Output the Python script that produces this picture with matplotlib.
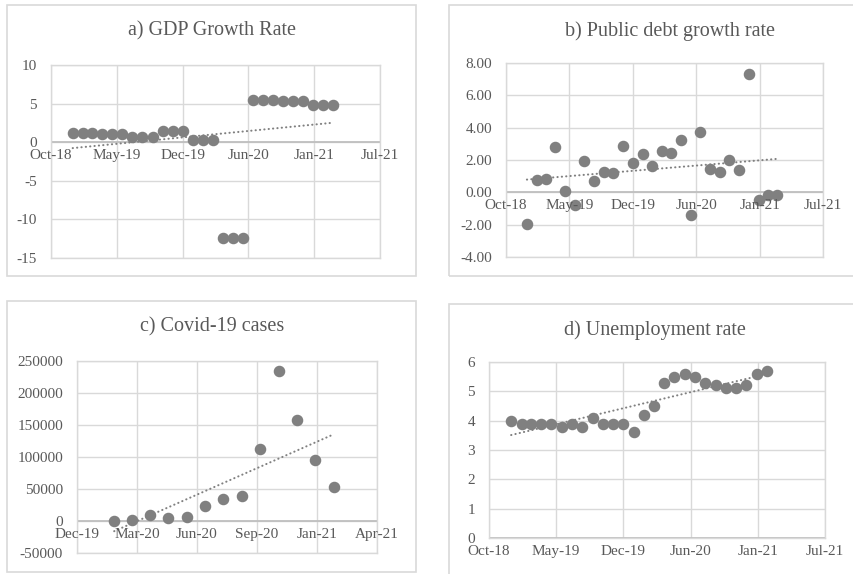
import datetime as dt
import numpy as np
import pandas as pd
import matplotlib
matplotlib.use("Agg")
import matplotlib.pyplot as plt
import matplotlib.dates as mdates
from matplotlib.patches import Rectangle

# ---------------- data ----------------
gdp_months = pd.date_range("2019-01-01", periods=27, freq="MS")
gdp_growth = [1.2, 1.2, 1.2, 1.0, 1.0, 1.0, 0.7, 0.7, 0.7,
              1.5, 1.5, 1.5, 0.3, 0.3, 0.3, -12.4, -12.4, -12.4,
              5.5, 5.5, 5.5, 5.3, 5.3, 5.3, 4.8, 4.8, 4.8]

debt_months = pd.date_range("2019-01-01", periods=27, freq="MS")
debt_growth = [-1.96, 0.76, 0.80, 2.78, 0.10, -0.78, 1.96, 0.72, 1.24,
               1.18, 2.85, 1.81, 2.37, 1.63, 2.58, 2.43, 3.24, -1.40,
               3.71, 1.46, 1.24, 2.02, 1.38, 7.32, -0.45, -0.19, -0.19]

covid_months = pd.date_range("2020-02-01", periods=13, freq="MS")
covid_cases = [0, 1500, 9000, 5200, 6300, 23400, 34900, 38500,
               113000, 235000, 157300, 95800, 53100]

unemp_months = pd.date_range("2019-01-01", periods=26, freq="MS")
unemp_rate = [4.0, 3.9, 3.9, 3.9, 3.9, 3.8, 3.9, 3.8, 4.1, 3.9, 3.9, 3.9,
              3.6, 4.2, 4.5, 5.3, 5.5, 5.6, 5.5, 5.3, 5.2, 5.1, 5.1, 5.2,
              5.6, 5.7]

titles = ["a) GDP Growth Rate", "b) Public debt growth rate",
          "c) Covid-19 cases", "d) Unemployment rate"]

# date axes: spreadsheet serial day numbers for the first tick and step
EXCEL_EPOCH = dt.datetime(1899, 12, 30)
monthly_axis = dict(start=43400, step=200, n=6)
covid_axis = dict(start=43800, step=100, n=6)

# ---------------- style ----------------
TEXT = "#595959"
GRID = "#d9d9d9"
AXIS = "#bfbfbf"
DOT = "#808080"
plt.rcParams["font.family"] = ["Liberation Serif", "DejaVu Serif"]

W, H = 854, 574
fig = plt.figure(figsize=(W / 100, H / 100), dpi=100)


def px_axes(x0, y0, x1, y1):
    return fig.add_axes([x0 / W, 1 - y1 / H, (x1 - x0) / W, (y1 - y0) / H])


def box(x0, y0, x1, y1):
    fig.patches.append(Rectangle((x0 / W, 1 - y1 / H), (x1 - x0) / W, (y1 - y0) / H,
                                 transform=fig.transFigure, fill=False,
                                 edgecolor=GRID, lw=1.2, zorder=0))


def serial_to_num(s):
    return mdates.date2num(EXCEL_EPOCH + dt.timedelta(days=s))


def draw(ax, dates, values, ylim, ystep, yfmt, axis, title, title_xy):
    x = mdates.date2num(pd.to_datetime(dates).to_pydatetime())
    y = np.asarray(values, dtype=float)
    ticks = [serial_to_num(axis["start"] + i * axis["step"]) for i in range(axis["n"])]
    ax.set_xlim(ticks[0], ticks[-1])
    ax.set_ylim(*ylim)
    yt = np.arange(ylim[0], ylim[1] + ystep / 2, ystep)
    ax.set_yticks(yt)
    ax.set_yticklabels([yfmt.format(v) for v in yt])
    ax.set_xticks(ticks)
    ax.set_xticklabels([])
    ax.grid(True, color=GRID, lw=1.0)
    ax.set_axisbelow(True)
    for s in ax.spines.values():
        s.set_color(GRID)
        s.set_linewidth(1.0)
    ax.tick_params(length=0, pad=10, labelsize=11, colors=TEXT)
    ax.axhline(0, color=AXIS, lw=1.3, zorder=1)

    # linear trend line, round dots
    k, b = np.polyfit(x, y, 1)
    xx = np.array([x[0], x[-1]])
    ax.plot(xx, k * xx + b, color=DOT, lw=1.5, ls=(0, (0.1, 2.0)),
            dash_capstyle="round", zorder=2)
    ax.plot(x, y, "o", ms=7.3, color=DOT, mec=DOT, zorder=3)

    # date labels hang just below the zero line
    for t in ticks:
        ax.annotate(mdates.num2date(t).strftime("%b-%y"), (t, 0),
                    xytext=(0, -5), textcoords="offset points",
                    ha="center", va="top", fontsize=11, color=TEXT,
                    annotation_clip=False)
    fig.text(title_xy[0] / W, 1 - title_xy[1] / H, title, ha="center",
             va="center", fontsize=14.5, color=TEXT)


# chart frames
box(7, 5, 416, 276)
box(449, 5, 860, 276)
box(7, 301, 416, 572)
box(449, 304, 860, 580)

ax_a = px_axes(51, 65, 380, 258)
draw(ax_a, gdp_months, gdp_growth, (-15, 10), 5, "{:.0f}", monthly_axis,
     titles[0], (212, 31))

ax_b = px_axes(506, 63, 823, 257)
draw(ax_b, debt_months, debt_growth, (-4, 8), 2, "{:.2f}", monthly_axis,
     titles[1], (670, 31))

ax_c = px_axes(77, 361, 377, 553)
draw(ax_c, covid_months, covid_cases, (-50000, 250000), 50000, "{:.0f}", covid_axis,
     titles[2], (212, 327))

ax_d = px_axes(489, 362, 825, 538)
draw(ax_d, unemp_months, unemp_rate, (0, 6), 1, "{:.0f}", monthly_axis,
     titles[3], (655, 330))

fig.savefig("out.png", dpi=100)
